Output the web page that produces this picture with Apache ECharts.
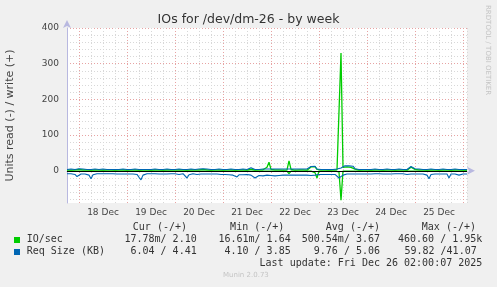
<!DOCTYPE html>
<html><head><meta charset="utf-8">
<script src="https://cdn.jsdelivr.net/npm/echarts@6/dist/echarts.min.js"></script>
<style>html,body{margin:0;padding:0;background:#f0f0f0}#c{width:497px;height:287px}</style>
</head><body><div id="c"></div>
<script>
// ---- data ----
const chartTitle = 'IOs for /dev/dm-26 - by week';
const yAxisName = 'Units read (-) / write (+)';
const startHour = 18;   // first sample: hours after 17 Dec 00:00
const endHour = 218;    // 26 Dec 02:00
const firstDay = 17;
const monthName = 'Dec';

// IO/sec read (plotted negative), 1 sample per hour
const ioRead = [
 0.5,0.5,0.5,0.5,0.5,0.5,
 0.5,0.5,0.5,0.5,0.5,0.5,0.5,0.5,0.5,0.5,0.5,0.5,0.5,0.5,0.5,0.5,0.5,0.5,0.5,0.5,0.5,0.5,0.5,0.5,
 0.5,0.5,0.5,0.5,0.5,0.5,0.5,0.5,0.5,0.5,0.5,0.5,0.5,0.5,0.5,0.5,0.5,0.5,0.5,0.5,0.5,0.5,0.5,0.5,
 0.5,0.5,0.5,0.5,0.5,0.5,0.5,0.5,0.5,0.5,0.5,0.5,0.5,0.5,0.5,0.5,0.5,0.5,0.5,0.5,0.5,0.5,0.5,0.5,
 0.5,0.5,0.5,0.5,0.5,0.5,0.5,0.5,0.5,0.5,0.5,0.5,0.5,0.5,0.5,0.5,0.5,0.5,0.5,0.5,0.5,0.5,0.5,2,
 0.5,0.5,0.5,0.5,0.5,0.5,0.5,0.5,0.5,8,0.5,0.5,0.5,0.5,0.5,0.5,0.5,0.5,0.5,0.5,0.5,0.5,5,20,
 0.5,0.5,0.5,0.5,0.5,0.5,0.5,0.5,0.5,0.5,3,82,0.5,0.5,0.5,0.5,0.5,0.5,0.5,0.5,0.5,0.5,0.5,0.5,
 0.5,0.5,0.5,0.5,0.5,0.5,0.5,0.5,0.5,0.5,0.5,0.5,0.5,0.5,0.5,0.5,0.5,0.5,0.5,0.5,0.5,0.5,0.5,0.5,
 0.5,0.5,0.5,0.5,0.5,0.5,0.5,0.5,0.5,0.5,0.5,0.5,0.5,0.5,0.5,0.5,0.5,0.5,0.5,0.5,0.5,0.5,0.5,0.5,
 0.5,0.5,0.5
];
// IO/sec write (plotted positive)
const ioWrite = [
 3,3,2,3,3,3,
 4,6,3,2,3,3,2,3,3,2,3,3,2,3,3,2,3,3,2,3,3,2,3,3,
 2,3,3,2,3,3,2,3,3,2,3,3,2,3,3,2,3,3,2,3,3,2,3,3,
 3,7,3,2,3,3,2,3,3,2,3,3,3,8,4,2,3,3,2,3,3,2,3,3,
 2,3,3,2,3,3,2,3,3,2,3,3,2,3,5,3,2,3,3,2,3,3,10,24,
 4,3,3,2,3,3,2,3,3,28,4,3,2,3,3,2,3,3,2,3,11,14,12,4,
 3,3,2,3,3,2,3,3,3,3,5,330,10,12,11,13,10,12,5,3,2,3,3,2,
 3,3,2,3,3,2,3,3,2,3,3,2,3,3,2,3,3,2,3,3,2,3,10,14,
 4,3,3,2,3,3,2,3,3,2,3,3,2,3,3,2,3,3,2,3,3,2,3,3,
 2,3,2
];
// Req Size (KB) read (plotted negative)
const reqRead = [
 8,9,8,9,10,16,
 11,9,8,9,8,12,22,11,9,8,9,8,9,8,9,8,9,8,10,9,8,9,8,9,
 8,9,8,9,8,10,18,25,12,9,8,9,8,9,8,10,9,8,9,8,9,10,8,9,
 8,9,10,9,8,11,20,11,9,8,9,10,8,9,10,9,8,9,10,9,8,9,11,10,
 9,10,9,11,10,12,11,17,11,10,11,12,10,11,12,13,20,15,13,12,14,13,12,14,
 13,12,14,12,13,11,12,13,12,15,12,11,12,11,12,13,12,11,12,14,13,16,12,11,
 10,9,10,9,10,11,10,12,10,11,20,25,12,10,9,10,9,10,9,10,9,8,9,8,
 9,8,9,10,8,9,8,12,9,8,9,8,9,10,8,9,8,9,8,9,10,8,9,8,
 9,8,9,8,9,10,12,22,10,8,9,8,9,8,9,8,9,20,9,8,9,8,12,17,
 9,8,9
];
// Req Size (KB) write (plotted positive)
const reqWrite = [
 4,4,5,4,4,5,
 6,8,5,4,4,5,4,4,5,4,4,4,5,4,4,5,4,4,4,5,4,4,5,4,
 4,5,4,4,5,4,4,5,4,4,4,5,4,4,5,4,4,5,4,4,5,4,4,4,
 4,9,5,4,4,5,4,4,5,4,4,4,5,10,6,4,5,4,4,5,4,4,5,4,
 4,5,4,4,5,4,4,5,4,4,5,4,4,5,9,5,4,5,4,4,5,4,5,6,
 5,4,5,4,5,4,5,4,5,6,5,4,5,4,5,4,5,4,5,4,12,15,13,5,
 5,4,5,4,5,4,5,4,5,5,6,8,12,14,13,14,12,13,6,5,4,5,4,5,
 4,5,4,4,5,4,4,5,4,4,5,4,4,5,4,4,5,4,4,5,4,4,12,15,
 6,4,5,4,4,5,4,4,5,4,4,5,4,4,5,4,4,5,4,4,5,4,4,5,
 4,5,4
];

const yTickLabels = [0, 100, 200, 300, 400];
const legendHeaders = ['Cur (-/+)', 'Min (-/+)', 'Avg (-/+)', 'Max (-/+)'];
const ioStats  = ['17.78m/ 2.10', '16.61m/ 1.64', '500.54m/ 3.67', '460.60 / 1.95k'];
const reqStats = ['6.04 / 4.41', '4.10 / 3.85', '9.76 / 5.06', '59.82 /41.07'];
const lastUpdate = 'Last update: Fri Dec 26 02:00:07 2025';
const muninVersion = 'Munin 2.0.73';
const watermark = 'RRDTOOL / TOBI OETIKER';

// ---- build ----
const GREEN = '#00cc00', BLUE = '#0066b3';
const pair = (arr, sign) => arr.map((v, i) => [startHour + i, sign * v]);
const chart = echarts.init(document.getElementById('c'), null, {renderer: 'canvas'});
const MONO = '"DejaVu Sans Mono", monospace';
const SANS = '"DejaVu Sans", sans-serif';
const RED_GRID = '#e7a3a3', GRAY_GRID = '#d8d8d8', NONE = 'rgba(0,0,0,0)';

const colRight = [196.7, 290.7, 380, 482.3];
const col2Right = [196.7, 290.7, 380, 476.7];
const hdrRight = [187, 284.3, 380, 476];
const graphics = [];
legendHeaders.forEach((t, k) => graphics.push({type:'text', right: 497 - hdrRight[k], top: 222, style:{text:t, font:'10px ' + MONO, fill:'#333'}}));
ioStats.forEach((t, k) => graphics.push({type:'text', right: 497 - colRight[k], top: 234.5, style:{text:t, font:'10px ' + MONO, fill:'#333'}}));
reqStats.forEach((t, k) => graphics.push({type:'text', right: 497 - col2Right[k], top: 246.5, style:{text:t, font:'10px ' + MONO, fill:'#333'}}));
graphics.push({type:'text', left: 26.7, top: 234.5, style:{text:'IO/sec', font:'10px ' + MONO, fill:'#333'}});
graphics.push({type:'text', left: 26.7, top: 246.5, style:{text:'Req Size (KB)', font:'10px ' + MONO, fill:'#333'}});
graphics.push({type:'rect', shape:{x:14, y:237, width:6, height:6}, style:{fill:GREEN}});
graphics.push({type:'rect', shape:{x:14, y:249, width:6, height:6}, style:{fill:BLUE}});
graphics.push({type:'text', right: 497 - 482.3, top: 258, style:{text:lastUpdate, font:'10px ' + MONO, fill:'#333'}});
graphics.push({type:'text', left: 223, top: 272, style:{text:muninVersion, font:'7px ' + SANS, fill:'#c4c4c4'}});
graphics.push({type:'text', x: 491, y: 5, rotation: -Math.PI/2, style:{text:watermark, font:'7px ' + SANS, fill:'#c4c4c4', align:'left', verticalAlign:'top'}});

chart.setOption({
  animation: false,
  backgroundColor: '#f0f0f0',
  title: {text: chartTitle, left: 'center', top: 8, textStyle:{fontFamily: SANS, fontSize: 12.5, fontWeight: 'normal', color: '#333'}},
  grid: {left: 67, right: 30, top: 28, bottom: 84, show: true, backgroundColor: '#ffffff', borderWidth: 0, outerBoundsMode: 'none', containLabel: false},
  xAxis: {
    type: 'value', min: startHour, max: endHour, interval: 6,
    axisLine: {show: true, lineStyle: {color: '#b8b8e0'}, symbol: ['none','arrow'], symbolSize: [6, 8], symbolOffset: [0, 8]},
    axisTick: {show: false},
    axisLabel: {interval: 0, margin: 5, fontFamily: SANS, fontSize: 9, color: '#444',
      formatter: v => (v % 24 === 12) ? (firstDay + Math.floor(v / 24)) + ' ' + monthName : ''},
    splitLine: {show: true, lineStyle: {color: [GRAY_GRID, RED_GRID, GRAY_GRID, GRAY_GRID], type: [1, 2], width: 1}}
  },
  yAxis: {
    type: 'value', min: -90, max: 400, interval: 10,
    name: yAxisName, nameLocation: 'middle', nameGap: 51, nameRotate: 90,
    nameTextStyle: {fontFamily: SANS, fontSize: 11, color: '#444'},
    axisLine: {show: true, lineStyle: {color: '#b8b8e0'}, symbol: ['none','arrow'], symbolSize: [6, 8], symbolOffset: [0, 8]},
    axisTick: {show: false},
    axisLabel: {margin: 8, fontFamily: SANS, fontSize: 9, color: '#444', interval: 0,
      formatter: v => yTickLabels.indexOf(v) >= 0 ? String(v) : ''},
    splitLine: {show: true, lineStyle: {color: [NONE, GRAY_GRID, NONE, GRAY_GRID, NONE, GRAY_GRID, NONE, GRAY_GRID, NONE, RED_GRID], type: [1, 2], width: 1}}
  },
  series: [
    {type:'line', name:'IO/sec read', data: pair(ioRead, -1), showSymbol:false, lineStyle:{color:GREEN, width:1.3}, itemStyle:{color:GREEN}},
    {type:'line', name:'IO/sec write', data: pair(ioWrite, 1), showSymbol:false, lineStyle:{color:GREEN, width:1.3}, itemStyle:{color:GREEN}},
    {type:'line', name:'Req read', data: pair(reqRead, -1), showSymbol:false, lineStyle:{color:BLUE, width:1.1}, itemStyle:{color:BLUE}},
    {type:'line', name:'Req write', data: pair(reqWrite, 1), showSymbol:false, lineStyle:{color:BLUE, width:1.1}, itemStyle:{color:BLUE},
     markLine:{silent:true, symbol:'none', label:{show:false}, lineStyle:{color:'#000', type:'solid', width:1}, data:[{yAxis:0}]}}
  ],
  graphic: graphics
});
</script></body></html>
